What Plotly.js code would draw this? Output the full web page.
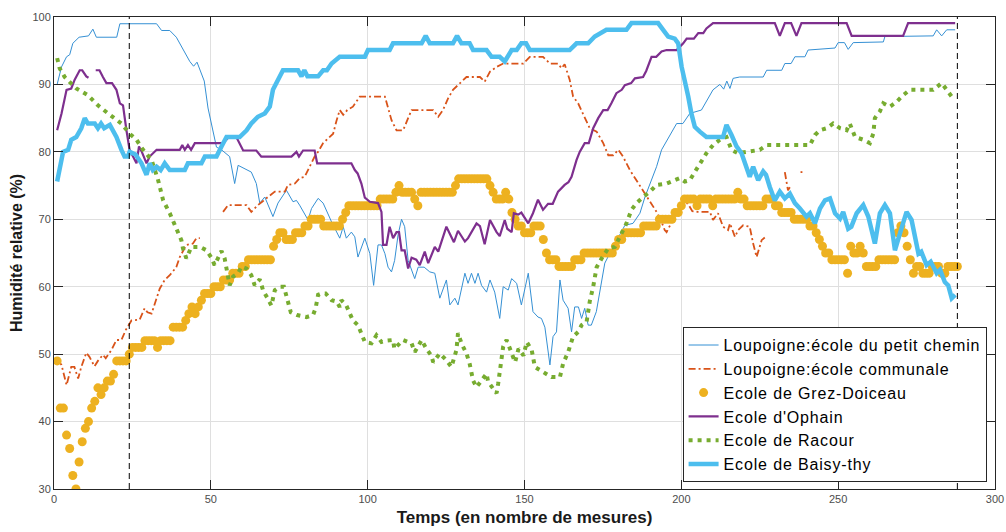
<!DOCTYPE html>
<html>
<head>
<meta charset="utf-8">
<script src="https://cdn.plot.ly/plotly-3.0.1.min.js"></script>
<style>
html,body{margin:0;padding:0;background:#fff;}
#chart{width:1006px;height:532px;}
.legendtext{letter-spacing:0.85px;}
</style>
</head>
<body>
<div id="chart"></div>
<script>
// ---- Series names ----
const seriesNames = [
  "Loupoigne:école du petit chemin",
  "Loupoigne:école communale",
  "Ecole de Grez-Doiceau",
  "Ecole d'Ophain",
  "Ecole de Racour",
  "Ecole de Baisy-thy"
];

// ---- Loupoigne: école du petit chemin ----
const petitCheminX = [1,2.4,4,5,6,8,11,12.4,13.5,20,21,32.7,34.3,36.9,39,43.3,44.5,45.6,47.9,49.1,51.8,53.4,56,57.6,58.7,61.9,62.9,64.5,65.6,67.2,69.8,71.4,74.1,76.2,77.3,78.3,81,82.1,84.2,85.8,88.5,91.1,92.2,93.2,94.8,95.9,96.9,99.1,100.7,101.9,103.3,104.4,105.5,106.5,107.6,108.6,109.7,110.8,111.8,112.9,114,115,116.1,118,119.8,121.4,123,125.1,126.2,127.8,128.8,131,132,133.1,134.2,135.2,136.3,137.9,139,140.5,142.1,143.2,144.8,145.9,147.5,149,151.2,152.7,154.3,155.4,156.5,158.1,159.1,160.2,161.3,162.3,163.9,165,166,167.2,168.2,169.2,170.3,171.3,172.9,174.6,175.6,177.7,180.4,182,184.6,186.8,188.4,190,192.1,193.7,196.3,198.5,200.5,202.7,206.4,210.1,212.3,213.5,214.5,215.5,216.5,218.6,226.1,227.2,232,233,235,236.2,239.4,240.4,249,250,252,253.2,254.8,264.4,264.9,280.3,281.4,283,284.6,287.3];
const petitCheminY = [90,92.6,94.1,94.4,96.1,97,97.2,98.2,97,97,99,99,98,98,97,93.4,92.7,93.3,90.5,86.5,80.7,80.3,79.3,75.3,78,77.3,77,75.3,72.4,73.3,70.4,72.4,74.3,72.6,72.8,72.1,69.9,71.6,73.1,72.4,69.6,67.2,68.9,67.2,68.1,67.4,64.4,67.2,64.9,60.2,66.2,66.2,64.9,62.9,62.2,63.9,67.7,70,68.9,63.9,62.5,61.2,62.9,62.9,62.2,62,58.3,61,57.3,58.3,57.3,62,60.5,62,60.5,62,60.2,59.2,61,59.2,55.3,60,59.5,61.2,60.5,57.3,62,56.3,55.5,55.3,54,48.4,52.6,53.3,61,58,56.8,53.3,57,57,55.3,56.8,54.3,54.3,56.3,60.5,63.5,65.4,67.7,69.1,69.4,70.9,73.3,75.3,77.8,80.3,82.3,84.2,84.2,85.7,86.2,89.2,90,89.3,90.5,89.4,90.9,91.1,91.1,92.1,92.1,93.1,93.1,94.1,94.1,95.1,95.4,96.2,96.2,95.2,96.2,96.3,97.1,97.2,98.1,97.2,98.1,98.1];

// ---- Loupoigne: école communale (null = missing measures) ----
const communaleX = [1,2.4,4,5.5,6.5,7.7,8.7,10.3,11.3,12.9,14,15.6,16.5,18.3,19.9,21.5,22.9,24.7,27.3,28.9,29.8,31.1,33.7,35.3,36.9,39,40.1,41.7,42.2,44.3,45.4,46.5,50,53.9,55.5,61.4,62.9,65,66.7,68.2,70.4,73.6,74.6,76.8,78.3,79.9,81.5,83.1,84.2,85.8,87.4,89,90,91.1,92.2,93.5,95.3,97.5,105.5,106.5,107.6,109.2,111.3,112.9,114,120.9,122.5,124,125.6,127.2,129.4,131.5,135.8,137.3,139,141.1,143.2,149.6,151.7,155.9,158.1,160.7,161.8,162.8,164.4,165.5,167.1,168.7,170.8,173,175.1,176.7,178.3,179.9,181.4,183.6,185.7,187.8,190,192.1,193.7,194.7,195.3,196.5,198,200.1,202,203.5,204.8,209.1,210.1,211.7,213.3,214.9,215.5,217.1,218.1,219.7,221.8,222.9,224,225.6,226.6,230,233,233.5,234,235.1,236.5,238,238.6];
const communaleY = [49.2,48.4,45.4,48.1,48.1,46.4,48.1,50.2,49.6,48.2,49,49.9,49.4,50.6,52.1,52.1,53.6,55,55.1,56.8,56.2,56,59.7,61,61.7,62.9,64.4,65.9,66.2,66.4,67.2,67.2,null,71.1,72.1,72.1,71.1,72.1,72.8,73.3,74.1,74.1,75.1,75.3,76.1,76.3,77.8,79.3,80,81.3,82,82.7,84.5,86.2,85.5,86.2,86.7,88.2,88.2,86.7,84.7,83.2,83.2,85,86.2,86.2,85.2,86.2,87.9,89.2,90.2,91.1,91.1,90.4,91.9,92.6,93.1,93.1,94.1,94.1,93.1,93.1,92.4,93,90.7,88.2,87.2,85.5,83.5,83,81.3,79.5,79.5,80.3,79.3,77.3,75.8,74.3,72.8,71.1,69.6,68.4,68.1,69.1,70.5,71.9,72.4,71.2,71.1,71.1,69.9,70.9,68.9,68.4,69.4,67.4,68.4,69.1,68.9,66.4,64.4,66.9,67.3,null,77,75.8,74.3,75.1,null,77,77];

// ---- Ecole de Grez-Doiceau (one value per measure) ----
const grezY = [49,42,42,38,36,32,30,34,37,39,40,42,43,45,44,45,46,46,47,49,
49,49,49,50,51,51,51,51,52,52,52,52,51,52,52,52,52,54,54,54,
54,55,56,57,56,57,58,59,59,59,60,60,60,61,61,61,62,62,62,63,
63,64,64,64,64,64,64,64,64,66,67,68,68,67,67,67,68,68,68,69,
69,70,70,70,70,69,69,69,69,69,69,70,71,72,72,72,72,72,72,72,
72,72,72,73,73,73,73,73,74,75,74,74,74,74,73,72,74,74,74,74,
74,74,74,74,74,74,74,75,76,76,76,76,76,76,76,76,76,76,75,74,
73,73,73,74,73,71,70,69,69,68,68,68,69,69,69,67,65,64,64,64,
63,63,63,63,63,64,64,64,65,65,65,65,65,65,65,65,65,65,66,67,
67,68,68,68,68,68,68,69,69,69,69,69,70,70,70,70,70,71,71,72,
73,73,73,73,72,73,73,73,73,72,73,73,73,73,73,73,73,74,73,73,
72,72,72,72,72,72,73,73,73,72,72,71,71,71,71,70,70,70,70,70,
69,69,68,67,66,65,65,64,64,64,64,64,62,66,65,65,66,65,63,63,
63,63,64,64,64,64,64,64,68,69,68,66,64,62,63,63,62,62,62,63,
63,63,62,62,63,63,63,63];
const grezX = grezY.map((_, i) => i + 1);

// ---- Ecole d'Ophain ----
const ophainX = [1,2.4,4,5.5,6.6,8.2,9,10.3,11,12,13.3,14.5,15.6,16.7,18.5,19.9,21,22,23.1,24.1,25.2,26.3,27.1,28,29.5,30.5,32.7,40.1,40.9,41.7,42.7,43.7,44.9,53.9,56,58,60.3,64.5,66.1,75.7,77.3,78.1,79.4,83.1,83.9,94.8,95.9,96.8,98,99.1,100.7,103.3,104.4,104.9,106,107,108.1,109.2,110,110.8,111.8,112.9,114,115.5,116.6,118.2,119.3,121.4,122.5,125.1,127.5,128.8,131,132,134.7,135.8,137.3,139,141.1,142.1,143.7,144.5,145.9,146.6,148,149,151.2,152.7,154.3,155.9,157.5,159,160.7,162.8,164,165,166.6,167.6,169.2,170.5,171.9,173.5,175.1,176.5,177.7,179.3,181,182,184,185.2,187.8,188.8,190.5,192,193.7,195.3,198.5,200.6,201.7,204,205.4,207,208,210.1,229.8,231.4,233,235,236.7,238.3,252.7,254.3,270.7,272.3,287.3];
const ophainY = [83.2,85.7,89.2,89.4,90.7,92.1,92.1,91.2,91,null,92.1,92.1,91.1,90.2,90.2,89.2,87.2,86.9,83.2,80.3,79.3,78.3,80.8,80,78.3,79.3,80.3,80.3,81,80.3,81,80.3,81.3,81.3,82.3,82.3,80.2,80.2,79.3,79.3,80,79.3,80.2,80.2,78.3,78.3,77.3,76.8,75.3,73.2,72.6,72.4,71.1,66.2,66.2,68.9,67.2,68.1,68.1,65.4,65.4,62.7,64.3,64,63.2,65.2,63.5,65.9,65.2,68.9,66.6,68.3,66.7,67.2,69.4,69,66.3,69.9,68.1,67.5,69.9,68.6,68.1,70.9,70.7,71,69.4,70.9,72.9,71.4,72.3,72.3,74.1,75.1,75.5,76.3,78.8,80,81.3,81.3,83.5,85,86.2,86.2,87.2,88.7,89.2,89.9,90.2,90.9,91.1,92,94.1,94.1,94.9,95.1,95.1,96.1,96.8,96.8,97.6,97.6,98.3,99.1,99.1,97.2,99.1,99.1,97.2,99.1,99.1,97.2,97.2,99.1,99.1];

// ---- Ecole de Racour ----
const racourX = [1,1.8,3.4,7.1,10.8,14,17.8,21.5,24.1,26.3,28.4,31.1,33.2,34.8,36.9,39,40.6,41.1,42.2,43.8,46.5,48.6,50.2,51.2,52.3,53.4,54.4,55,55.5,56,57.1,58.7,59.8,61.4,62.9,64,65.6,66.7,68.2,69.3,70.4,71.9,73.3,74.6,75.5,77.5,80.5,82.6,83.4,84.2,85.3,86.6,88.5,90.1,91.1,91.6,93.2,95.3,96.9,99.1,101.2,102.8,104.4,106,108.1,108.5,111.3,114,115,117.2,118.7,120.3,120.9,123,125.1,126.7,128.3,128.8,130,131.5,132.5,133.6,134.7,136.3,137.9,138.4,140,141.1,141.6,142.1,143.2,144.3,145.9,147,148.1,149.7,150.7,152.3,153.3,154.9,157,158.6,161.3,162.3,163.9,165.5,167.1,168.2,169.8,170.8,171.9,173,174.6,176.7,178.8,180.4,182.5,184.1,185.7,187.8,190,192.1,195.3,199.5,201.1,202.7,204.3,205.9,208,210.1,212.3,214.4,216,218,221.8,225,227.2,241,242.6,244.2,246.3,248.4,250.6,252.7,253.7,255.4,258,260.1,261.2,261.7,263.3,264.4,266.5,268.6,270.7,272.9,280.3,283,284.6,286.2,287.3];
const racourY = [93.9,92.4,91.1,89.4,88.4,86.9,85.5,84.2,82.7,81.8,80.3,78.8,75.8,72.8,70.9,68.4,66.9,65.7,64.2,65.9,65.9,65.4,64.3,63.2,64.2,65.3,64.2,62.8,61.5,60.2,61.5,62,63,62.7,61.7,60.2,61.1,59.4,58.2,57.2,59.5,60,60,57.5,56.2,55.8,55.5,55.8,56.8,58.8,59,59,58,57.8,57,58,57.2,55,54.3,51.8,51.6,52.8,51.8,52,52.1,50.8,52.1,51.6,50.3,52.1,50.8,49.8,48.8,50.1,49.1,48.1,50.6,53.1,51.5,50.1,48.6,46.1,45.1,46.1,47.1,45.9,45,44.2,45.6,47.6,51.1,52.1,50.3,48.8,50.8,49.8,51.8,50.6,48.1,47.6,47.1,46.6,46.6,48.6,50.3,52.6,53.3,54.3,54.8,57.8,60,62.9,64.2,65.7,65.9,67.4,69.4,71.4,72.4,73.3,74.1,75.1,75.3,76.1,75.6,75.8,77,78.3,79.8,81,81.8,82.2,80.3,79.8,80,80.3,81,81,82.5,83.2,83.5,84.2,83.5,83.2,84.2,82.2,81.8,81.3,82.7,85,86,87.2,86.7,87.4,88.4,89.2,89.2,90.2,89.2,88.2,88];

// ---- Ecole de Baisy-thy ----
const baisyX = [1,2,2.9,4.5,5.5,7.1,8.7,9.8,10.8,13,14,15,16,17.8,19.9,21.5,22.5,23.5,24.1,26,27.9,29.5,30.5,31.5,32.7,34,35.3,36.9,41.7,42.7,47,48.1,51.8,53.4,55,59.2,61.4,62.9,65,67.2,68.8,69.8,71.4,73,77.8,78.9,79.8,80.8,84.2,85.8,87,88.5,91.1,99.1,100.1,107,108.1,117.2,118.5,119.8,127.2,128.5,129.9,132.5,133.6,137.9,139.5,142.1,143.7,145.9,147.5,149,150.5,151.7,164.4,166.6,170.3,172.4,176.1,182.5,184.1,192.6,194.2,195.8,197.9,199,200.1,201.1,202.2,203.2,204.3,205.9,208,213.3,214.4,216,217.6,219.2,221.8,222.9,224.5,226.1,227,228.2,229.8,231.4,233,234.6,236.2,237.8,239.9,241,242.6,244.2,245.8,247.4,249,250.6,251.6,253.2,254.2,255.9,258,259.6,261.7,263.3,264.9,266.5,268.1,269.7,271.8,273.4,275.6,276.5,278.2,279.5,281.4,282.5,284,285.1,286.2,287.3];
const baisyY = [75.6,78,80,80.3,81.8,82.2,83.5,85,84.2,84.2,83.5,84.2,83.5,84,82.2,80.3,79.3,79.3,80,79.6,78.3,76.6,78.3,77.3,77.8,77.3,78.3,77.3,77.3,78.3,78.3,79.3,79.3,80.8,82.2,82.2,83.2,84.2,85.2,85.7,86.7,89.2,90.7,92.1,92.1,91.2,92.1,91.2,91.2,92.1,92.1,93.1,94.1,94.1,95.1,95.1,96.1,96.1,97.2,96.1,96.1,97.2,96.1,96.1,95.1,95.1,94.1,94.1,93.4,95.1,95.1,96.1,96.1,95.1,95.1,96.1,96.1,97.1,98.1,98.1,99.1,99.1,98.1,97.1,96.8,96.1,92.6,90.7,88.2,85.7,83.7,83,82.2,82.2,84,82.5,80.8,79.8,76.3,77.8,75.8,77.1,76.6,74.8,72.8,74.1,73.1,73.8,72.4,71.6,70.4,70.9,69.4,71.6,72.8,73.1,70.9,70.1,71.1,68.6,68.9,70.9,72.1,70.4,66.4,70.9,72.1,70.9,65.4,67.9,71.1,69.9,64.9,65.2,63.2,63.7,62,62.5,60.7,60.2,58.3,58.8];

// ---- Axis ticks and reference lines ----
const xTicks = [0, 50, 100, 150, 200, 250, 300];
const yTicks = [30, 40, 50, 60, 70, 80, 90, 100];
const refLinesX = [24, 288];

const FONT = "Liberation Sans, Arial, Helvetica, sans-serif";
const AX = "#262626";

const traces = [
  {x: petitCheminX, y: petitCheminY, name: seriesNames[0], type: "scatter", mode: "lines",
   line: {color: "#3590d4", width: 1}},
  {x: communaleX, y: communaleY, name: seriesNames[1], type: "scatter", mode: "lines",
   connectgaps: false, line: {color: "#D95319", width: 1.8, dash: "7px,3px,2px,3px"}},
  {x: grezX, y: grezY, name: seriesNames[2], type: "scatter", mode: "markers",
   marker: {color: "#EDB120", size: 9, line: {width: 0}}},
  {x: ophainX, y: ophainY, name: seriesNames[3], type: "scatter", mode: "lines",
   connectgaps: false, line: {color: "#7E2F8E", width: 2.2}},
  {x: racourX, y: racourY, name: seriesNames[4], type: "scatter", mode: "lines",
   line: {color: "#77AC30", width: 4, dash: "4px,5px"}},
  {x: baisyX, y: baisyY, name: seriesNames[5], type: "scatter", mode: "lines",
   line: {color: "#4DBEEE", width: 4.5}}
];

const layout = {
  width: 1006, height: 532,
  margin: {l: 54, r: 11, t: 17, b: 43},
  paper_bgcolor: "#fff", plot_bgcolor: "#fff",
  font: {family: FONT, color: AX, size: 11},
  showlegend: true,
  legend: {
    x: 0.668, y: 0.343, xanchor: "left", yanchor: "top",
    bgcolor: "#fff", bordercolor: AX, borderwidth: 1,
    font: {family: FONT, size: 16, color: "#000"},
    tracegroupgap: 0
  },
  xaxis: {
    range: [0, 300], tickvals: xTicks, ticktext: xTicks.map(String),
    showgrid: true, gridcolor: "#dfdfdf", gridwidth: 1, zeroline: false,
    showline: true, linecolor: AX, linewidth: 1, mirror: "ticks",
    ticks: "inside", ticklen: 9, tickcolor: AX, tickwidth: 1,
    tickfont: {family: FONT, size: 11, color: "#4d4d4d"},
    title: {text: "<b>Temps (en nombre de mesures)</b>", font: {family: FONT, size: 17, color: "#1a1a1a"}, standoff: 6}
  },
  yaxis: {
    range: [30, 100], tickvals: yTicks, ticktext: yTicks.map(String),
    showgrid: true, gridcolor: "#dfdfdf", gridwidth: 1, zeroline: false,
    showline: true, linecolor: AX, linewidth: 1, mirror: "ticks",
    ticks: "inside", ticklen: 9, tickcolor: AX, tickwidth: 1,
    tickfont: {family: FONT, size: 11, color: "#4d4d4d"},
    title: {text: "<b>Humidité relative (%)</b>", font: {family: FONT, size: 16, color: "#1a1a1a"}, standoff: 5}
  },
  shapes: refLinesX.map(v => ({
    type: "line", xref: "x", yref: "paper", x0: v, x1: v, y0: 0, y1: 1,
    layer: "above", line: {color: "#000", width: 1, dash: "6px,4px"}
  }))
};

Plotly.newPlot("chart", traces, layout, {staticPlot: true, displayModeBar: false});
</script>
</body>
</html>
